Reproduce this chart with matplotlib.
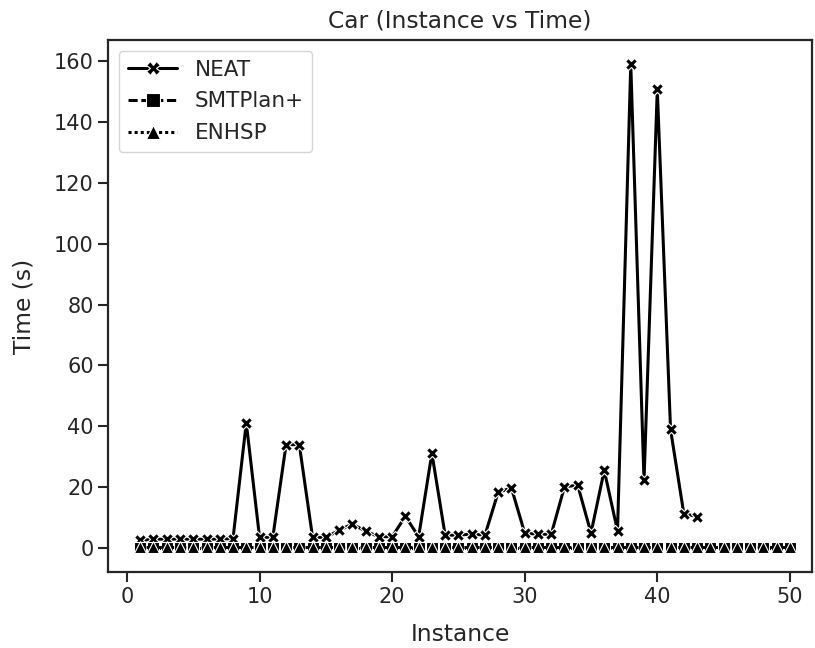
import numpy as np
import matplotlib
matplotlib.use('Agg')
import matplotlib.pyplot as plt
import seaborn as sns

sns.set_style('ticks')
plt.rcParams['font.family'] = ['DejaVu Sans']

# time in seconds per instance
neat_inst = list(range(1, 44))
neat_time = [2.6, 3.0, 3.0, 3.0, 3.0, 3.0, 3.0, 3.2, 41.2, 3.6,
             3.6, 34.0, 34.0, 3.6, 3.6, 5.9, 8.0, 5.6, 3.8, 3.8,
             10.5, 3.8, 31.2, 4.3, 4.3, 4.7, 4.3, 18.4, 19.8, 5.0,
             4.6, 4.6, 20.2, 20.7, 5.0, 25.6, 5.7, 158.8, 22.3, 150.6,
             39.0, 11.4, 10.4]

smt_inst = list(range(1, 51))
smt_time = [0.1] * 50

enhsp_inst = list(range(1, 51))
enhsp_time = [0.3] * 50

fig, ax = plt.subplots(figsize=(8.15, 6.48), dpi=100)

mk = dict(color='black', markersize=9, markeredgecolor='white', markeredgewidth=0.8)
ax.plot(neat_inst, neat_time, linestyle='-', marker='X', linewidth=2.2, label='NEAT', **mk)
ax.plot(smt_inst, smt_time, linestyle=(0, (3, 1.2)), marker='s', linewidth=2.2, label='SMTPlan+', **mk)
ax.plot(enhsp_inst, enhsp_time, linestyle=(0, (1, 1)), marker='^', linewidth=2.2, label='ENHSP', **mk)

ax.set_title('Car (Instance vs Time)', fontsize=16.8, color='0.15', pad=9)
ax.set_xlabel('Instance', fontsize=16.8, color='0.15', labelpad=12)
ax.set_ylabel('Time (s)', fontsize=16.8, color='0.15', labelpad=13)
ax.tick_params(labelsize=15, length=7, width=1.5)
ax.set_xticks([0, 10, 20, 30, 40, 50])
ax.set_yticks([0, 20, 40, 60, 80, 100, 120, 140, 160])
ax.set_xlim(-1.4, 51.65)
for s in ax.spines.values():
    s.set_linewidth(1.6)

ax.legend(loc='upper left', fontsize=15.5, handlelength=2.3, labelspacing=0.55, markerscale=1.1)

plt.subplots_adjust(left=0.133, right=0.996, top=0.938, bottom=0.117)
plt.savefig('out.png')
